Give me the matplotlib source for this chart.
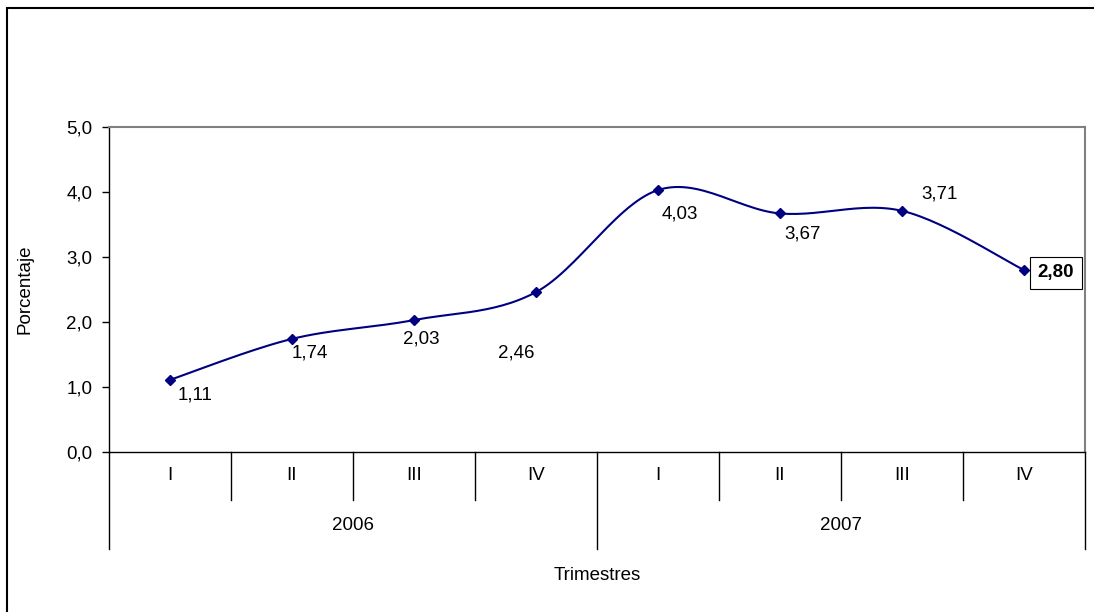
import numpy as np
import matplotlib.pyplot as plt
import matplotlib.transforms as mtransforms
from matplotlib.patches import Rectangle

plt.rcParams['font.family'] = ['Liberation Sans', 'DejaVu Sans']

quarters = ['I', 'II', 'III', 'IV', 'I', 'II', 'III', 'IV']
years = ['2006', '2007']
values = [1.11, 1.74, 2.03, 2.46, 4.03, 3.67, 3.71, 2.80]
labels = ['1,11', '1,74', '2,03', '2,46', '4,03', '3,67', '3,71', '2,80']
# label offsets in points (dx, dy) relative to each marker
offsets = [(18, -11), (13, -10), (5, -14), (-14, -44), (16, -17), (16, -15), (27, 12), (23, -2)]

navy = '#000080'
fs = 13.5


def smooth(xs, ys, n=30):
    # Excel-style smoothed line: cubic Bezier with Catmull-Rom control points
    px, py = [], []
    N = len(xs)
    for i in range(N - 1):
        p0 = np.array([xs[max(i - 1, 0)], ys[max(i - 1, 0)]])
        p1 = np.array([xs[i], ys[i]])
        p2 = np.array([xs[i + 1], ys[i + 1]])
        p3 = np.array([xs[min(i + 2, N - 1)], ys[min(i + 2, N - 1)]])
        c1 = p1 + (p2 - p0) / 6
        c2 = p2 - (p3 - p1) / 6
        t = np.linspace(0, 1, n)[:, None]
        b = (1 - t) ** 3 * p1 + 3 * (1 - t) ** 2 * t * c1 + 3 * (1 - t) * t ** 2 * c2 + t ** 3 * p2
        px.extend(b[:, 0])
        py.extend(b[:, 1])
    return np.array(px), np.array(py)


fig = plt.figure(figsize=(10.94, 6.12), dpi=100)
ax = fig.add_axes([109 / 1094, 1 - 452 / 612, 976 / 1094, 325 / 612])

x = np.arange(len(values))
sx, sy = smooth(x, values)
ax.plot(sx, sy, color=navy, lw=1.5)
ax.plot(x, values, linestyle='none', marker='D', ms=5, color=navy)

for i, (v, lab, off) in enumerate(zip(values, labels, offsets)):
    if i == len(values) - 1:
        ax.annotate(lab, (i, v), xytext=off, textcoords='offset points',
                    ha='center', va='center', fontsize=fs, fontweight='bold',
                    bbox=dict(boxstyle='square,pad=0.4', fc='white', ec='black', lw=0.8))
    else:
        ax.annotate(lab, (i, v), xytext=off, textcoords='offset points',
                    ha='center', va='center', fontsize=fs)

ax.set_xlim(-0.5, 7.5)
ax.set_ylim(0, 5)
ax.set_yticks(np.arange(0, 5.1, 1))
ax.set_yticklabels([f'{t:.1f}'.replace('.', ',') for t in np.arange(0, 5.1, 1)], fontsize=fs)
ax.tick_params(axis='y', direction='out', length=5, width=1, pad=7)
ax.set_xticks([])

for s in ['top', 'right']:
    ax.spines[s].set_color('#808080')
    ax.spines[s].set_linewidth(1.5)
for s in ['left', 'bottom']:
    ax.spines[s].set_color('black')
    ax.spines[s].set_linewidth(1)

# multi-level category axis
trans = mtransforms.blended_transform_factory(ax.transData, ax.transAxes)
q_depth = -48 / 325
y_depth = -97 / 325
for b in np.arange(-0.5, 8, 1):
    depth = y_depth if b in (-0.5, 3.5, 7.5) else q_depth
    ax.plot([b, b], [0, depth], transform=trans, color='black', lw=1, clip_on=False)
for i, q in enumerate(quarters):
    ax.text(i, -24 / 325, q, transform=trans, ha='center', va='center', fontsize=fs)
for j, yr in enumerate(years):
    ax.text(4 * j + 1.5, -73 / 325, yr, transform=trans, ha='center', va='center', fontsize=fs)

ax.set_ylabel('Porcentaje', fontsize=fs)
ax.yaxis.set_label_coords(-76 / 976, 0.5)
fig.text(597 / 1094, 1 - 576 / 612, 'Trimestres', ha='center', va='center', fontsize=fs)

# outer chart border (clipped on right and bottom)
fig.patches.append(Rectangle((7 / 1094, -0.1), 1.2, (612 - 8) / 612 + 0.1,
                             transform=fig.transFigure, fill=False, ec='black', lw=1.5))

fig.savefig('out.png', dpi=100)
